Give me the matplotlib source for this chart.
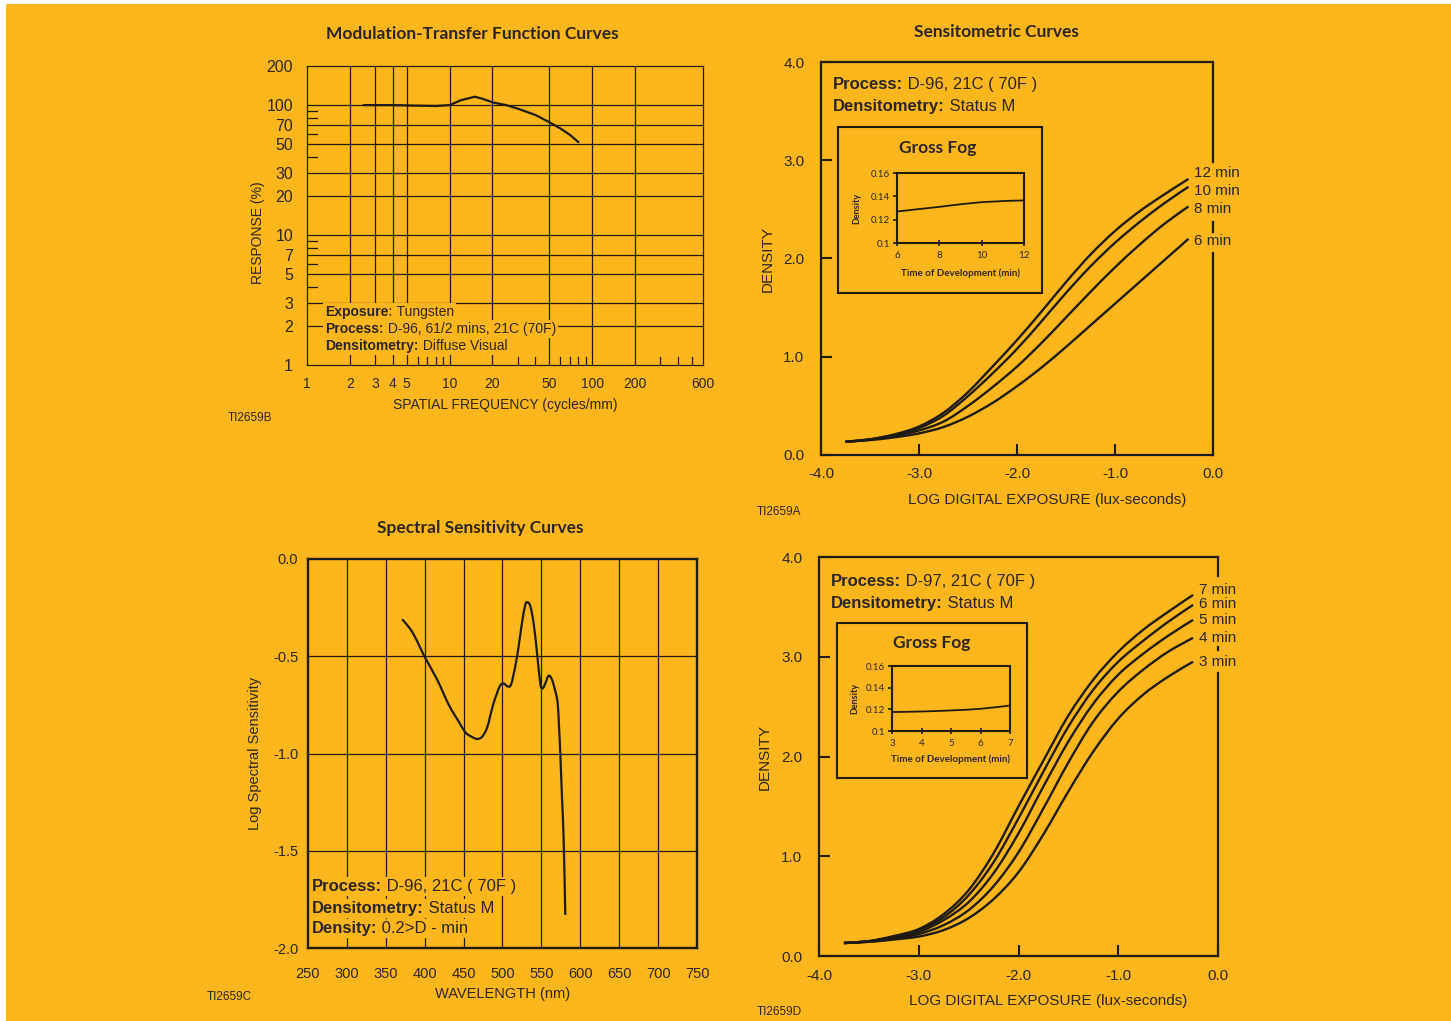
import matplotlib
matplotlib.use("Agg")
import matplotlib.pyplot as plt
import numpy as np
from matplotlib.patches import Rectangle, PathPatch
from matplotlib.path import Path

plt.rcParams['axes.unicode_minus'] = False
plt.rcParams['font.family'] = ['Liberation Sans', 'DejaVu Sans']

# ---- data ----
# MTF
mtf_freq = [2.5, 3, 4, 5, 6, 8, 10, 12, 15, 17, 20, 25, 30, 40, 50, 60, 70, 80]
mtf_resp = [100, 100, 100, 99.5, 99, 98.5, 100, 109, 116, 112, 105, 100, 94, 84, 74, 66, 59, 52]
mtf_yticks = [1, 2, 3, 5, 7, 10, 20, 30, 50, 70, 100, 200]
mtf_ygrid = [2, 3, 5, 7, 10, 20, 30, 50, 70, 100]
mtf_yminor = [4, 6, 8, 9, 40, 60, 80, 90]
mtf_xticks = [1, 2, 3, 4, 5, 10, 20, 50, 100, 200, 600]
mtf_xgrid = [2, 3, 4, 5, 10, 20, 50, 100, 200]
mtf_xminor = [6, 7, 8, 9, 30, 40, 60, 70, 80, 90, 300, 400, 500]

# Sensitometric D-96
log_e = [-3.75, -3.5, -3.25, -3.0, -2.75, -2.5, -2.25, -2.0, -1.75, -1.5,
         -1.25, -1.0, -0.75, -0.5, -0.25]
d96_times = ['12 min', '10 min', '8 min', '6 min']
d96_12 = [0.136, 0.16, 0.21, 0.29, 0.43, 0.64, 0.90, 1.17, 1.46, 1.76, 2.04, 2.28, 2.48, 2.65, 2.81]
d96_10 = [0.136, 0.158, 0.205, 0.275, 0.40, 0.60, 0.83, 1.08, 1.36, 1.65, 1.92, 2.16, 2.37, 2.56, 2.73]
d96_8 = [0.136, 0.155, 0.195, 0.25, 0.34, 0.50, 0.69, 0.90, 1.14, 1.40, 1.66, 1.91, 2.14, 2.35, 2.53]
d96_6 = [0.136, 0.152, 0.18, 0.22, 0.285, 0.39, 0.53, 0.70, 0.89, 1.10, 1.32, 1.54, 1.76, 1.98, 2.20]
fog96_t = [6, 8, 10, 12]
fog96_d = [0.127, 0.131, 0.135, 0.1365]

# Sensitometric D-97
d97_times = ['7 min', '6 min', '5 min', '4 min', '3 min']
d97_7 = [0.13, 0.15, 0.20, 0.27, 0.42, 0.66, 1.03, 1.50, 1.96, 2.41, 2.77, 3.05, 3.27, 3.45, 3.62]
d97_6 = [0.13, 0.148, 0.19, 0.26, 0.39, 0.61, 0.94, 1.38, 1.85, 2.30, 2.67, 2.95, 3.16, 3.35, 3.52]
d97_5 = [0.13, 0.146, 0.18, 0.24, 0.36, 0.54, 0.83, 1.23, 1.70, 2.15, 2.53, 2.82, 3.03, 3.21, 3.37]
d97_4 = [0.13, 0.144, 0.172, 0.22, 0.31, 0.46, 0.70, 1.04, 1.48, 1.94, 2.35, 2.65, 2.87, 3.05, 3.19]
d97_3 = [0.13, 0.142, 0.165, 0.195, 0.26, 0.38, 0.57, 0.84, 1.22, 1.65, 2.05, 2.38, 2.62, 2.80, 2.95]
fog97_t = [3, 4, 5, 6, 7]
fog97_d = [0.1175, 0.118, 0.119, 0.1205, 0.1235]

# Spectral sensitivity
wl = [371, 381.5, 390, 399.5, 416, 431, 443.6, 452, 458.6, 467, 473.6, 480, 484, 488.6, 493, 497,
      501.5, 506.6, 511, 516.5, 520.7, 525, 529.3, 532.3, 535.8, 540, 544.3, 548.6, 551.6, 555,
      559.3, 563.6, 567.9, 570.9, 572.6, 574.3, 576.4, 578.6, 580.7]
log_s = [-0.31, -0.36, -0.42, -0.50, -0.62, -0.75, -0.835, -0.89, -0.91, -0.925, -0.915, -0.87, -0.81,
         -0.74, -0.69, -0.65, -0.64, -0.655, -0.645, -0.55, -0.45, -0.33, -0.235, -0.223, -0.243, -0.33,
         -0.48, -0.64, -0.665, -0.64, -0.60, -0.62, -0.68, -0.74, -0.86, -1.00, -1.22, -1.44, -1.83]

# ---- style ----
W, H = 1451, 1021
ORANGE = '#FDB71C'
INK = '#1e1a14'
TXT = '#2a2520'

fig = plt.figure(figsize=(W / 100, H / 100), dpi=100)
fig.patch.set_facecolor('white')
fig.patches.append(Rectangle((6 / W, 0), 1 - 6 / W, 1 - 4 / H, transform=fig.transFigure,
                             facecolor=ORANGE, edgecolor='none', zorder=-10))
renderer = fig.canvas.get_renderer()


def px_axes(l, t, r, b):
    ax = fig.add_axes([l / W, 1 - b / H, (r - l) / W, (b - t) / H])
    ax.set_facecolor('none')
    return ax


def ftext(x, y, s, **kw):
    kw.setdefault('color', TXT)
    return fig.text(x / W, 1 - y / H, s, **kw)


def ptext(x, y, bold, rest, size, bg=False):
    kw = dict(fontsize=size, va='baseline', ha='left')
    if bg:
        kw['bbox'] = dict(facecolor=ORANGE, edgecolor='none', pad=1.5)
    t = ftext(x, y, bold, fontweight='bold', **kw)
    bb = t.get_window_extent(renderer=renderer)
    ftext(bb.x1, y, rest, **kw)


def smooth_line(ax, x, y, lw=1.6, zorder=3):
    # smooth curve through the points (Catmull-Rom drawn as cubic Bezier)
    p = np.column_stack([x, y]).astype(float)
    n = len(p)
    verts, codes = [p[0]], [Path.MOVETO]
    for i in range(n - 1):
        p0, p1, p2, p3 = p[max(i - 1, 0)], p[i], p[i + 1], p[min(i + 2, n - 1)]
        verts += [p1 + (p2 - p0) / 6, p2 - (p3 - p1) / 6, p2]
        codes += [Path.CURVE4] * 3
    ax.add_patch(PathPatch(Path(verts, codes), facecolor='none', edgecolor=INK, lw=lw,
                           capstyle='butt', zorder=zorder))


TITLE = dict(family=['Lato', 'DejaVu Sans'], fontweight='bold', fontsize=12.5,
             ha='center', va='center')

# ================= MTF =================
ax = px_axes(307, 66, 703, 365)
ax.set_xscale('log')
ax.set_yscale('log')
ax.set_xlim(1, 600)
ax.set_ylim(1, 200)
for v in mtf_ygrid:
    ax.axhline(v, color=INK, lw=0.9, zorder=1)
for v in mtf_xgrid:
    ax.axvline(v, color=INK, lw=0.9, zorder=1)
for v in mtf_yminor:
    ax.plot([1, 1.18], [v, v], color=INK, lw=0.9, zorder=1)
for v in mtf_xminor:
    ax.plot([v, v], [1, 1.15], color=INK, lw=0.9, zorder=1)
ax.plot(mtf_freq, mtf_resp, color=INK, lw=1.6, zorder=3)
ax.set_xticks(mtf_xticks)
ax.set_xticklabels([str(v) for v in mtf_xticks])
ax.set_yticks(mtf_yticks)
ax.set_yticklabels([str(v) for v in mtf_yticks])
ax.minorticks_off()
ax.tick_params(axis='both', length=0, colors=TXT)
ax.tick_params(axis='y', pad=10, labelsize=11.5)
ax.tick_params(axis='x', pad=9, labelsize=10)
for s in ax.spines.values():
    s.set_color(INK)
    s.set_linewidth(0.9)

ftext(472, 34, 'Modulation-Transfer Function Curves', **TITLE)
ftext(258, 233, 'RESPONSE (%)', fontsize=10, rotation=90, ha='center', va='center')
ftext(505, 405, 'SPATIAL FREQUENCY (cycles/mm)', fontsize=10, ha='center', va='center')
ftext(228, 418, 'TI2659B', fontsize=8.5, ha='left', va='center')
ptext(325, 316, 'Exposure:', ' Tungsten', 10, bg=True)
ptext(325, 333, 'Process:', ' D-96, 61/2 mins, 21C (70F)', 10, bg=True)
ptext(325, 350, 'Densitometry:', ' Diffuse Visual', 10, bg=True)


# ================= sensitometric charts =================
def sensito(box, curves, labels, label_y, seg, title_y, texts, fog_box, fog_ax,
            fog_t, fog_d, fog_title, fog_labels, ylab_x, xlab_y, code, code_y):
    l, t, r, b = box
    ax = px_axes(l, t, r, b)
    ax.set_xlim(-4, 0)
    ax.set_ylim(0, 4)
    for c in curves:
        smooth_line(ax, log_e, c, lw=1.7)
    for lab, yy in zip(labels, label_y):
        ax.text(-0.19, yy, lab, fontsize=11, color=TXT, ha='left', va='center')
    ax.set_xticks([-4, -3, -2, -1, 0])
    ax.set_xticklabels(['-4.0', '-3.0', '-2.0', '-1.0', '0.0'])
    ax.set_yticks([0, 1, 2, 3, 4])
    ax.set_yticklabels(['0.0', '1.0', '2.0', '3.0', '4.0'])
    ax.tick_params(direction='in', length=8, width=1.5, colors=INK, labelcolor=TXT,
                   labelsize=11)
    ax.tick_params(axis='y', pad=12)
    ax.tick_params(axis='x', pad=9)
    for s in ax.spines.values():
        s.set_color(INK)
        s.set_linewidth(1.6)
    ax.spines['right'].set_visible(False)
    for lo, hi in seg:
        ax.axvline(0, ymin=lo, ymax=hi, color=INK, lw=1.6, clip_on=False)
    for i, (bold, rest) in enumerate(texts):
        ptext(l + 12, title_y + 22 * i, bold, rest, 12)
    # inset frame
    fl, ft, fr, fb = fog_box
    fr_ax = px_axes(fl, ft, fr, fb)
    fr_ax.set_xticks([])
    fr_ax.set_yticks([])
    for s in fr_ax.spines.values():
        s.set_color(INK)
        s.set_linewidth(1.5)
    il, it, ir, ib = fog_ax
    ia = px_axes(il, it, ir, ib)
    smooth_line(ia, fog_t, fog_d, lw=1.3)
    ia.set_xlim(fog_t[0], fog_t[-1])
    ia.set_ylim(0.1, 0.16)
    ia.set_xticks(fog_t)
    ia.set_yticks([0.1, 0.12, 0.14, 0.16])
    ia.set_yticklabels(['0.1', '0.12', '0.14', '0.16'])
    for tl in ia.get_xticklabels() + ia.get_yticklabels():
        tl.set_family(['Lato', 'DejaVu Sans'])
    ia.tick_params(axis='y', direction='out', length=3, width=1.2, labelsize=7, pad=2,
                   colors=INK, labelcolor=TXT)
    ia.tick_params(axis='x', direction='inout', length=4, width=1.2, labelsize=7, pad=4,
                   colors=INK, labelcolor=TXT)
    for s in ia.spines.values():
        s.set_color(INK)
        s.set_linewidth(1.5)
    ftext((fl + fr) / 2 + fog_title[0], fog_title[1], 'Gross Fog', **TITLE)
    ftext(fog_labels[0], (it + ib) / 2, 'Density', family=['Lato', 'DejaVu Sans'],
          fontweight='bold', fontsize=6.5, rotation=90, ha='center', va='center')
    ftext((il + ir) / 2, fog_labels[1], 'Time of Development (min)',
          family=['Lato', 'DejaVu Sans'], fontweight='bold', fontsize=7, ha='center', va='center')
    ftext(ylab_x, (t + b) / 2, 'DENSITY', fontsize=11, rotation=90, ha='center', va='center')
    ftext((l + r) / 2 + 30, xlab_y, 'LOG DIGITAL EXPOSURE (lux-seconds)', fontsize=11,
          ha='center', va='center')
    ftext(757, code_y, code, fontsize=8.5, ha='left', va='center')


sensito((821, 62, 1213, 455), [d96_12, d96_10, d96_8, d96_6], d96_times,
        [2.87, 2.69, 2.50, 2.18],
        [(0.746, 1.0), (0.567, 0.593), (0.0, 0.514)], 89,
        [('Process:', ' D-96, 21C ( 70F )'), ('Densitometry:', ' Status M')],
        (838, 127, 1042, 293), (897, 173, 1024, 243), fog96_t, fog96_d, (-2, 148),
        (857, 273), 768, 500, 'TI2659A', 512)
ftext(996, 32, 'Sensitometric Curves', **TITLE)

sensito((819, 557, 1218, 956), [d97_7, d97_6, d97_5, d97_4, d97_3], d97_times,
        [3.67, 3.53, 3.37, 3.19, 2.95],
        [(0.952, 1.0), (0.767, 0.774), (0.0, 0.709)], 586,
        [('Process:', ' D-97, 21C ( 70F )'), ('Densitometry:', ' Status M')],
        (837, 623, 1027, 778), (892, 666, 1010, 731), fog97_t, fog97_d, (0, 643),
        (855, 759), 765, 1001, 'TI2659D', 1012)

# ================= spectral =================
ax = px_axes(308, 559, 697, 948)
ax.set_xlim(250, 750)
ax.set_ylim(-2, 0)
for v in range(300, 750, 50):
    ax.axvline(v, color=INK, lw=0.9, zorder=1)
for v in [-0.5, -1.0, -1.5]:
    ax.axhline(v, color=INK, lw=0.9, zorder=1)
smooth_line(ax, wl, log_s, lw=1.6)
ax.set_xticks(range(250, 800, 50))
ax.set_yticks([-2, -1.5, -1, -0.5, 0])
ax.set_yticklabels(['-2.0', '-1.5', '-1.0', '-0.5', '0.0'])
ax.tick_params(length=0, labelsize=10.5, colors=TXT)
ax.tick_params(axis='y', pad=7)
ax.tick_params(axis='x', pad=14)
for s in ax.spines.values():
    s.set_color(INK)
    s.set_linewidth(1.7)
ftext(480, 528, 'Spectral Sensitivity Curves', **TITLE)
ftext(255, 753, 'Log Spectral Sensitivity', fontsize=10.5, rotation=90, ha='center', va='center')
ftext(503, 994, 'WAVELENGTH (nm)', fontsize=10.5, ha='center', va='center')
ftext(207, 997, 'TI2659C', fontsize=8.5, ha='left', va='center')
ptext(312, 891, 'Process:', ' D-96, 21C ( 70F )', 12, bg=True)
ptext(312, 913, 'Densitometry:', ' Status M', 12, bg=True)
ptext(312, 933, 'Density:', ' 0.2>D - min', 12, bg=True)

fig.savefig('out.png', dpi=100, facecolor=fig.get_facecolor())
